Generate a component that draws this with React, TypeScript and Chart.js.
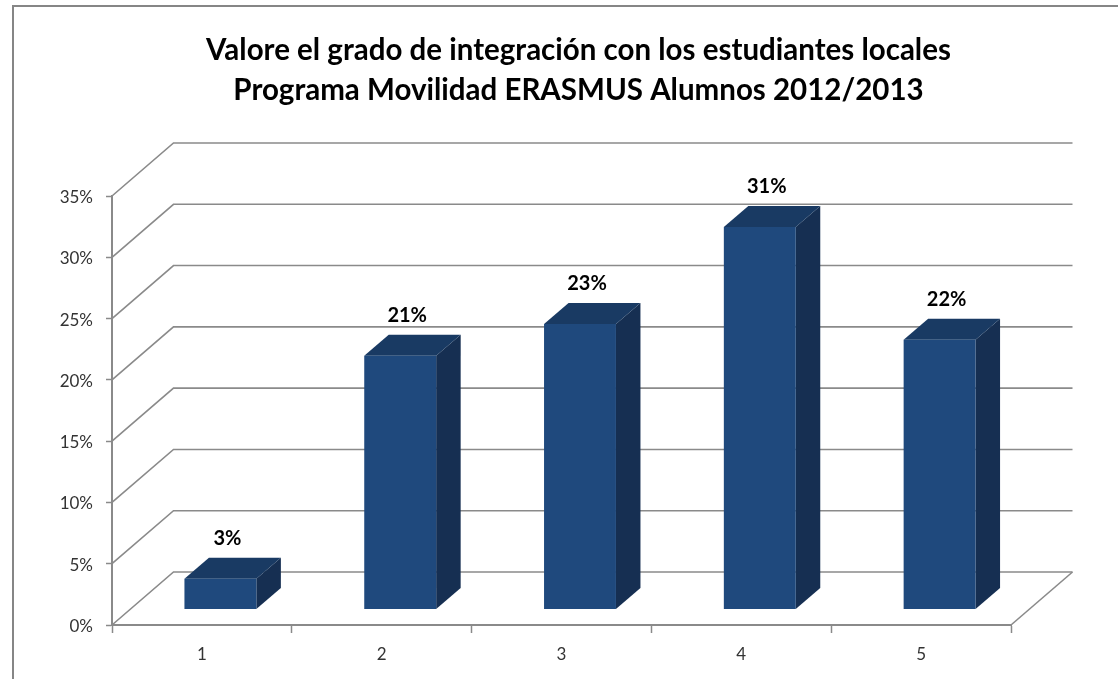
import React, { useEffect, useRef } from "react";
import { Chart, registerables } from "chart.js";

Chart.register(...registerables);

const categories = ["1", "2", "3", "4", "5"];
const values = [2.5, 20.7, 23.3, 31.2, 22.0];
const titleLines = [
  "Valore el grado de integración con los estudiantes locales",
  "Programa Movilidad ERASMUS Alumnos 2012/2013",
];

const FONT = "Lato, 'Open Sans', sans-serif";
const LINE = "#8a8a8a";
const FRONT = "#1F497D";
const TOP = "#193A63";
const SIDE = "#162F52";
// Perspective offsets of the fake 3D plot
const WALL_DX = 61.5;
const WALL_DY = -53;
const BAR_DX = 18.5;
const BAR_DY = -15.5;
const DEPTH_DX = 24.5;
const DEPTH_DY = -21;

const threeD = {
  id: "threeD",
  afterLayout(chart: any) {
    // The title of the reference sits right of the page centre
    chart.titleBlock.left = 39;
    chart.titleBlock.right = 1118;
  },
  beforeDraw(chart: any) {
    const { ctx, width, height } = chart;
    ctx.save();
    ctx.fillStyle = "#ffffff";
    ctx.fillRect(0, 0, width, height);
    ctx.strokeStyle = "#868686";
    ctx.lineWidth = 2;
    ctx.beginPath();
    ctx.moveTo(13, height);
    ctx.lineTo(13, 6);
    ctx.lineTo(width, 6);
    ctx.stroke();
    ctx.restore();
  },
  beforeDatasetsDraw(chart: any) {
    const { ctx, scales, chartArea } = chart;
    const y = scales.y;
    ctx.save();
    ctx.strokeStyle = LINE;
    ctx.lineWidth = 1.6;
    for (const t of y.ticks) {
      const py = y.getPixelForValue(t.value);
      ctx.beginPath();
      ctx.moveTo(chartArea.left, py);
      ctx.lineTo(chartArea.left + WALL_DX, py + WALL_DY);
      ctx.lineTo(chartArea.right + WALL_DX, py + WALL_DY);
      ctx.stroke();
    }
    const floor = y.getPixelForValue(0);
    ctx.beginPath();
    ctx.moveTo(chartArea.right, floor);
    ctx.lineTo(chartArea.right + WALL_DX, floor + WALL_DY);
    ctx.stroke();

    const bars = chart.getDatasetMeta(0).data;
    for (const b of bars) {
      const l = b.x - b.width / 2 + BAR_DX;
      const r = b.x + b.width / 2 + BAR_DX;
      const t = b.y + BAR_DY;
      const base = b.base + BAR_DY;
      ctx.fillStyle = SIDE;
      ctx.beginPath();
      ctx.moveTo(r, t);
      ctx.lineTo(r + DEPTH_DX, t + DEPTH_DY);
      ctx.lineTo(r + DEPTH_DX, base + DEPTH_DY);
      ctx.lineTo(r, base);
      ctx.closePath();
      ctx.fill();
      ctx.fillStyle = TOP;
      ctx.beginPath();
      ctx.moveTo(l, t);
      ctx.lineTo(l + DEPTH_DX, t + DEPTH_DY);
      ctx.lineTo(r + DEPTH_DX, t + DEPTH_DY);
      ctx.lineTo(r, t);
      ctx.closePath();
      ctx.fill();
    }
    ctx.restore();
    ctx.save();
    ctx.translate(BAR_DX, BAR_DY);
  },
  afterDatasetsDraw(chart: any) {
    const { ctx } = chart;
    ctx.restore();
    const bars = chart.getDatasetMeta(0).data;
    ctx.save();
    ctx.fillStyle = "#000000";
    ctx.font = `bold 20px ${FONT}`;
    ctx.textAlign = "center";
    ctx.textBaseline = "middle";
    bars.forEach((b: any, i: number) => {
      ctx.fillText(`${Math.round(values[i])}%`, b.x + BAR_DX + 7, b.y + BAR_DY - 40.5);
    });
    ctx.restore();
  },
};

export default function App() {
  const ref = useRef<HTMLCanvasElement>(null);
  useEffect(() => {
    document.body.style.margin = "0";
    const chart = new Chart(ref.current!, {
      type: "bar",
      data: {
        labels: categories,
        datasets: [
          {
            data: values,
            backgroundColor: FRONT,
            barPercentage: 0.4,
            categoryPercentage: 1,
            clip: false,
          } as any,
        ],
      },
      options: {
        responsive: false,
        animation: false,
        layout: { padding: { right: 107 } },
        plugins: {
          legend: { display: false },
          tooltip: { enabled: false },
          title: {
            display: true,
            text: titleLines,
            color: "#000000",
            font: { family: FONT, size: 29.5, weight: "bold", lineHeight: 1.356 },
            padding: { top: 30, bottom: 86 },
          },
        },
        scales: {
          x: {
            offset: true,
            afterFit: (s: any) => {
              s.height = 54;
            },
            border: { color: LINE, width: 2 },
            grid: {
              drawOnChartArea: false,
              drawTicks: true,
              tickLength: 8,
              tickColor: LINE,
              tickWidth: 1.5,
            },
            ticks: {
              color: "#333333",
              font: { family: FONT, size: 17 },
              padding: 11,
            },
          },
          y: {
            min: 0,
            max: 35,
            afterFit: (s: any) => {
              s.width = 112;
            },
            border: { color: LINE, width: 2 },
            grid: {
              drawOnChartArea: false,
              drawTicks: true,
              tickLength: 6,
              tickColor: LINE,
              tickWidth: 1.5,
            },
            ticks: {
              stepSize: 5,
              color: "#333333",
              font: { family: FONT, size: 17 },
              padding: 13,
              labelOffset: 1.5,
              callback: (v: any) => `${v}%`,
            },
          },
        },
      },
      plugins: [threeD],
    } as any);
    return () => chart.destroy();
  }, []);
  return <canvas ref={ref} width={1118} height={679} style={{ display: "block" }} />;
}
